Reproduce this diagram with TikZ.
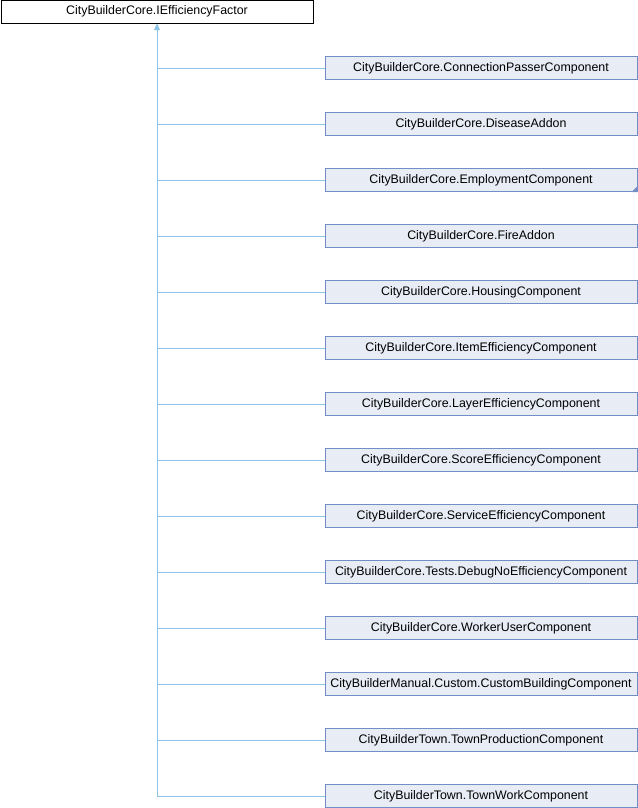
\documentclass[tikz,border=0pt]{standalone}
\usepackage{fontspec}
\setmainfont{Liberation Sans}
\usetikzlibrary{arrows.meta}
\definecolor{boxfill}{HTML}{E8ECF5}
\definecolor{boxdraw}{HTML}{738EC6}
\definecolor{edgecol}{HTML}{8CC4E8}
\tikzset{
  basebox/.style={draw=black, fill=white, line width=0.75pt, minimum width=312*0.75pt, minimum height=23*0.75pt, inner sep=0pt, font=\fontsize{9.3pt}{11pt}\selectfont},
  childbox/.style={draw=boxdraw, fill=boxfill, line width=0.75pt, minimum width=312*0.75pt, minimum height=23*0.75pt, inner sep=0pt, font=\fontsize{9.3pt}{11pt}\selectfont},
  edge/.style={draw=edgecol, line width=0.75pt},
  inh/.style={-{Triangle[width=4.5pt,length=5pt,fill=edgecol]}}
}
\begin{document}
\begin{tikzpicture}[x=0.75pt,y=-0.75pt]
\useasboundingbox (0,0) rectangle (638,808);
\node[basebox] (base) at (157,11.5) {CityBuilderCore.IEfficiencyFactor};
\coordinate (trunk) at (157,796);
\foreach \i/\name/\lab in {
 0/c0/CityBuilderCore.ConnectionPasserComponent,
 1/c1/CityBuilderCore.DiseaseAddon,
 2/c2/CityBuilderCore.EmploymentComponent,
 3/c3/CityBuilderCore.FireAddon,
 4/c4/CityBuilderCore.HousingComponent,
 5/c5/CityBuilderCore.ItemEfficiencyComponent,
 6/c6/CityBuilderCore.LayerEfficiencyComponent,
 7/c7/CityBuilderCore.ScoreEfficiencyComponent,
 8/c8/CityBuilderCore.ServiceEfficiencyComponent,
 9/c9/CityBuilderCore.Tests.DebugNoEfficiencyComponent,
 10/c10/CityBuilderCore.WorkerUserComponent,
 11/c11/CityBuilderManual.Custom.CustomBuildingComponent,
 12/c12/CityBuilderTown.TownProductionComponent,
 13/c13/CityBuilderTown.TownWorkComponent}{
  \node[childbox] (\name) at (481,68+56*\i) {\lab};
  \draw[edge] (\name.west) -- (157,68+56*\i);
}
\draw[edge,inh] (trunk) -- (base.south);
\fill[boxdraw] (c2.south east) -- ++(0,-6) -- ++(-6,6) -- cycle;
\end{tikzpicture}
\end{document}
